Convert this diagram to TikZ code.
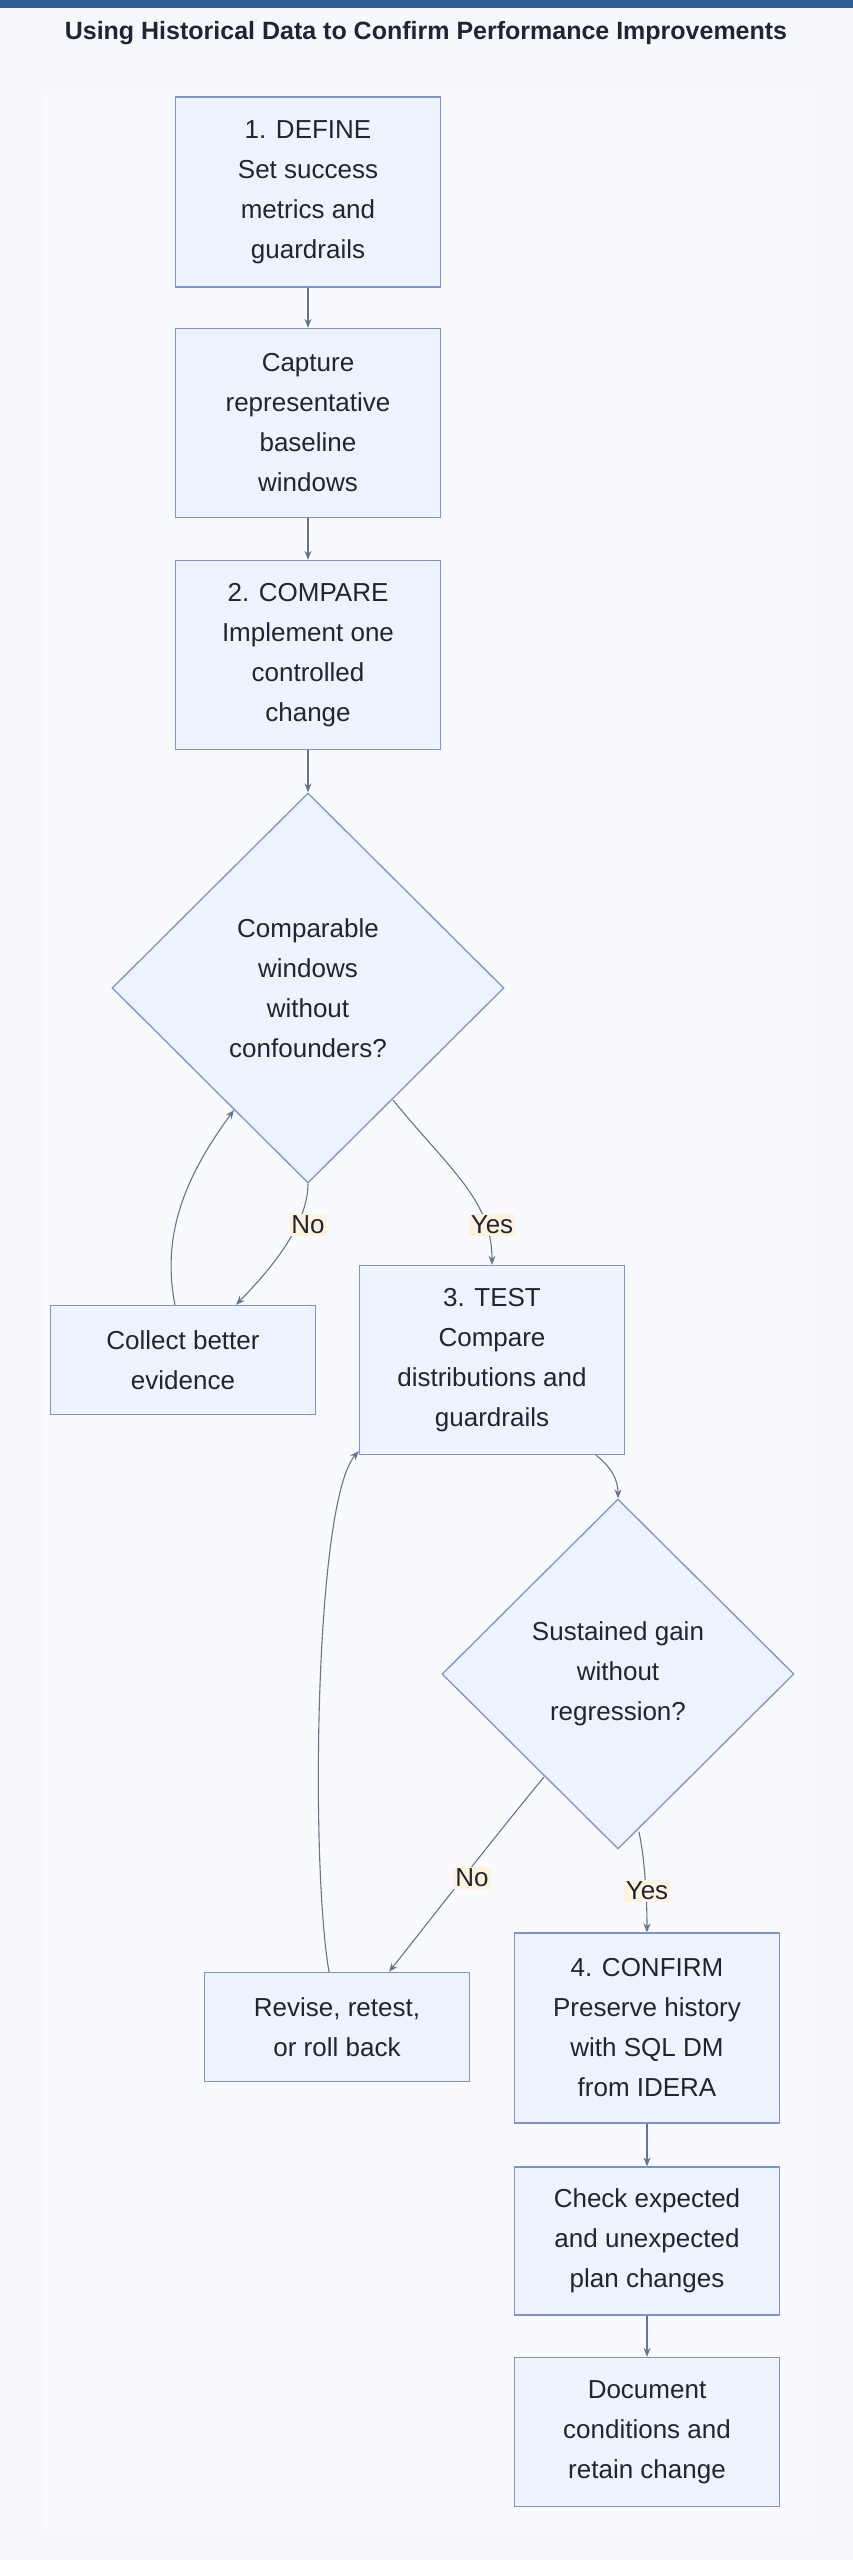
\documentclass[tikz,border=0pt]{standalone}
\usepackage{fontspec}
\setmainfont{Liberation Sans}
\usetikzlibrary{shapes.geometric,arrows.meta}
\definecolor{bg}{HTML}{F6F8FC}
\definecolor{panel}{HTML}{F9FAFD}
\definecolor{bar}{HTML}{2F5B96}
\definecolor{boxfill}{HTML}{EDF3FF}
\definecolor{boxline}{HTML}{7D95C6}
\definecolor{edge}{HTML}{66758C}
\definecolor{lbl}{HTML}{FFF3DF}
\definecolor{txt}{HTML}{1E2633}
\begin{document}
\begin{tikzpicture}[x=1pt,y=-1pt,
  box/.style={draw=boxline,fill=boxfill,line width=1.3pt,minimum width=265pt,inner sep=0pt,align=center,text=txt,font=\fontsize{26}{40}\selectfont},
  dia/.style={draw=boxline,fill=boxfill,line width=1.3pt,shape=diamond,inner sep=0pt,align=center,text=txt,font=\fontsize{26}{40}\selectfont},
  lab/.style={fill=lbl,inner sep=2pt,text=txt,font=\fontsize{26}{30}\selectfont},
  arr/.style={draw=edge,line width=1.1pt,-{Stealth[length=9pt,width=7pt]}}]
\fill[bg] (0,0) rectangle (853,2560);
\useasboundingbox (0,0) rectangle (853,2560);
\fill[bar] (0,0) rectangle (853,8);
\fill[panel] (44,90) rectangle (809,2530);
\node[text=txt,font=\fontsize{25}{28}\selectfont\bfseries] (title) at (426,33) {Using Historical Data to Confirm Performance Improvements};
\node[box,minimum height=190pt] (b1) at (308,192) {1. DEFINE\\Set success\\metrics and\\guardrails};
\node[box,minimum height=189pt] (b2) at (308,423) {Capture\\representative\\baseline\\windows};
\node[box,minimum height=189pt] (b3) at (308,655) {2. COMPARE\\Implement one\\controlled\\change};
\node[dia,minimum width=392pt,minimum height=390pt] (d1) at (308,988) {Comparable\\windows\\without\\confounders?};
\node[box,minimum height=109pt] (c1) at (183,1360) {Collect better\\evidence};
\node[box,minimum height=189pt] (t1) at (492,1360) {3. TEST\\Compare\\distributions and\\guardrails};
\node[dia,minimum width=352pt,minimum height=350pt] (d2) at (618,1674) {Sustained gain\\without\\regression?};
\node[box,minimum height=109pt] (r1) at (337,2027) {Revise, retest,\\or roll back};
\node[box,minimum height=190pt] (f1) at (647,2028) {4. CONFIRM\\Preserve history\\with SQL DM\\from IDERA};
\node[box,minimum height=148pt] (k1) at (647,2241) {Check expected\\and unexpected\\plan changes};
\node[box,minimum height=149pt] (m1) at (647,2432) {Document\\conditions and\\retain change};
\coordinate (d1y) at (393,1100);
\coordinate (d1l) at (234,1110);
\coordinate (d2n) at (544,1777);
\coordinate (d2y) at (639,1832);
\draw[arr] (b1) -- (b2);
\draw[arr] (b2) -- (b3);
\draw[arr] (b3) -- (d1);
\draw[arr] (d1.south) .. controls (308,1230) and (260,1280) .. ([xshift=53pt]c1.north);
\draw[arr] (d1y) .. controls (450,1170) and (492,1200) .. (t1.north);
\draw[arr] ([xshift=-8pt]c1.north) .. controls (160,1230) and (190,1170) .. (d1l);
\draw[arr] ([xshift=104pt]t1.south) .. controls (612,1468) and (618,1480) .. (d2.north);
\draw[arr] (d2n) .. controls (500,1830) and (430,1920) .. ([xshift=52pt]r1.north);
\draw[arr] (d2y) .. controls (645,1860) and (647,1900) .. (f1.north);
\draw[arr] ([xshift=-8pt]r1.north) .. controls (310,1860) and (315,1500) .. ([yshift=4pt]t1.south west);
\draw[arr] (f1) -- (k1);
\draw[arr] (k1) -- (m1);
\node[lab] (n1) at (308,1225) {No};
\node[lab] (y1) at (492,1225) {Yes};
\node[lab] (n2) at (472,1878) {No};
\node[lab] (y2) at (647,1891) {Yes};
\end{tikzpicture}
\end{document}
